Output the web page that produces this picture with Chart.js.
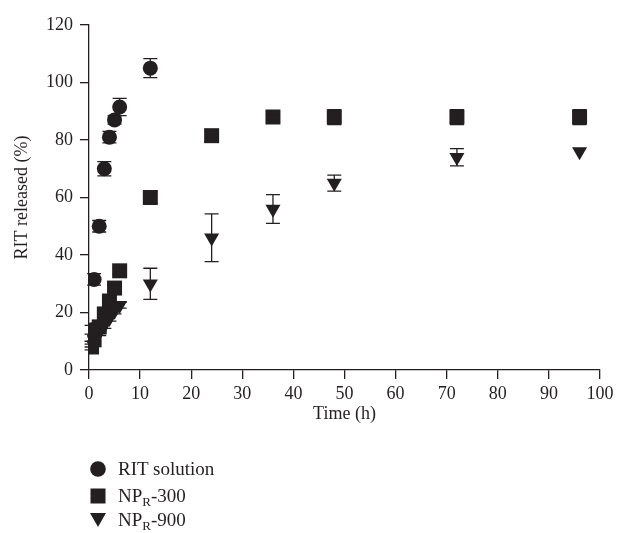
<!DOCTYPE html>
<html><head><meta charset="utf-8">
<script src="https://cdn.jsdelivr.net/npm/chart.js@4.4.0/dist/chart.umd.min.js"></script>
<style>
html,body{margin:0;padding:0;background:#fff;}
#wrap{position:relative;width:626px;height:533px;}
#legend{position:absolute;left:0;top:0;width:626px;height:533px;pointer-events:none;font-family:"Liberation Serif","DejaVu Serif",serif;font-size:19px;color:#231f20;}
.row{position:absolute;left:90px;height:24px;white-space:nowrap;}
.row svg{position:absolute;left:0;top:4px;}
.row span{position:absolute;left:28px;top:0;line-height:24px;}
sub{font-size:13px;vertical-align:-4px;line-height:0;}
</style></head><body>
<div id="wrap"><canvas id="c" width="626" height="533"></canvas>
<div id="legend">
 <div class="row" style="top:457px"><svg width="16" height="16"><circle cx="8" cy="8" r="7.8" fill="#231f20"/></svg><span>RIT solution</span></div>
 <div class="row" style="top:484px"><svg width="16" height="16"><rect x="0.5" y="0.5" width="15" height="15" fill="#231f20"/></svg><span>NP<sub>R</sub>-300</span></div>
 <div class="row" style="top:508px"><svg width="16" height="16"><polygon points="0,1 16,1 8,15" fill="#231f20"/></svg><span>NP<sub>R</sub>-900</span></div>
</div></div>
<script>
// ---- data ----
const timesRIT = [0.5, 1, 2, 3, 4, 5, 6, 12];
const valuesRIT = [14, 31.5, 50, 70, 81, 87, 91.5, 105];
const errorsRIT = [1.5, 2, 2, 2.5, 2, 1.5, 3, 3.3];

const timesNP = [0.5, 1, 2, 3, 4, 5, 6, 12, 24, 36, 48, 72, 96];
const valuesNP300 = [8, 10.5, 15, 19.5, 24, 28.5, 34.5, 60, 81.5, 88, 88, 88, 88];
const errorsNP300 = [1, 1, 1, 1, 1, 1, 1, 2, 2, 1, 2.6, 2.6, 2.6];
const valuesNP900 = [9, 11, 13, 15.5, 18, 20.5, 22.5, 30, 46, 56, 65, 74, 76];
const errorsNP900 = [1, 1, 1, 1, 1, 1, 1, 5.4, 8.3, 5, 2.8, 3, 0];

const xTickValues = [0, 10, 20, 30, 40, 50, 60, 70, 80, 90, 100];
const yTickValues = [0, 20, 40, 60, 80, 100, 120];

const INK = '#231f20';
const FONT = '"Liberation Serif", "DejaVu Serif", serif';

function pts(times, vals) { return times.map((t, i) => ({x: t, y: vals[i]})); }

const errorBars = {
  id: 'errorBars',
  afterDatasetsDraw(chart) {
    const ctx = chart.ctx, xs = chart.scales.x, ys = chart.scales.y;
    ctx.save();
    ctx.strokeStyle = INK;
    ctx.lineWidth = 1.3;
    chart.data.datasets.forEach(ds => {
      ds.data.forEach((p, i) => {
        const e = ds.errors[i];
        if (!e) return;
        const px = xs.getPixelForValue(p.x);
        const y1 = ys.getPixelForValue(p.y + e);
        const y2 = ys.getPixelForValue(p.y - e);
        ctx.beginPath();
        ctx.moveTo(px, y1); ctx.lineTo(px, y2);
        ctx.moveTo(px - 7, y1); ctx.lineTo(px + 7, y1);
        ctx.moveTo(px - 7, y2); ctx.lineTo(px + 7, y2);
        ctx.stroke();
      });
    });
    ctx.restore();
  }
};

new Chart(document.getElementById('c'), {
  type: 'scatter',
  data: {
    datasets: [
      {label: 'NP-900', data: pts(timesNP, valuesNP900), errors: errorsNP900,
       pointStyle: 'triangle', rotation: 180, radius: 8.7, backgroundColor: INK, borderWidth: 0},
      {label: 'NP-300', data: pts(timesNP, valuesNP300), errors: errorsNP300,
       pointStyle: 'rect', radius: 10.6, backgroundColor: INK, borderWidth: 0},
      {label: 'RIT solution', data: pts(timesRIT, valuesRIT), errors: errorsRIT,
       pointStyle: 'circle', radius: 7.5, backgroundColor: INK, borderWidth: 0}
    ]
  },
  options: {
    responsive: false,
    animation: false,
    layout: {padding: {top: 25, right: 26, left: 0, bottom: 0}},
    plugins: {legend: {display: false}, tooltip: {enabled: false}},
    scales: {
      x: {
        type: 'linear', min: 0, max: 100,
        afterBuildTicks: s => { s.ticks = xTickValues.map(v => ({value: v})); },
        ticks: {font: {family: FONT, size: 18}, color: INK, padding: 4, maxRotation: 0},
        grid: {drawOnChartArea: false, drawTicks: true, tickLength: 9, color: INK, lineWidth: 1.3},
        border: {color: INK, width: 1.3},
        title: {display: true, text: 'Time (h)', font: {family: FONT, size: 18}, color: INK, padding: {top: 0, bottom: 108}},
        afterFit: s => { s.height = 163; }
      },
      y: {
        type: 'linear', min: 0, max: 120,
        afterBuildTicks: s => { s.ticks = yTickValues.map(v => ({value: v})); },
        ticks: {font: {family: FONT, size: 18}, color: INK, padding: 7},
        grid: {drawOnChartArea: false, drawTicks: true, tickLength: 9, color: INK, lineWidth: 1.3},
        border: {color: INK, width: 1.3},
        title: {display: true, text: 'RIT released (%)', font: {family: FONT, size: 18}, color: INK, padding: {top: 11, bottom: 0}},
        afterFit: s => { s.width = 89; }
      }
    }
  },
  plugins: [errorBars]
});
</script>
</body></html>
